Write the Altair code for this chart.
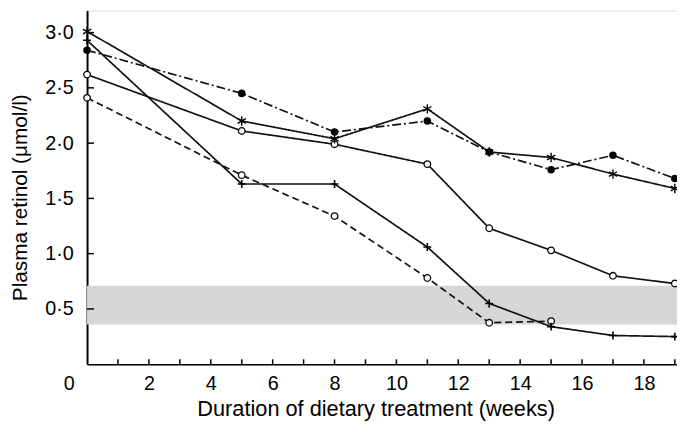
import altair as alt
import pandas as pd

# ---- data ----
weeks = [0, 5, 8, 11, 13, 15, 17, 19]
weeks_short = [0, 5, 8, 11, 13, 15]
asterisk_vals = [3.01, 2.20, 2.04, 2.31, 1.92, 1.87, 1.72, 1.59]
filled_vals = [2.84, 2.45, 2.10, 2.20, 1.92, 1.76, 1.89, 1.68]
open_solid_vals = [2.62, 2.11, 1.99, 1.81, 1.23, 1.03, 0.80, 0.73]
plus_vals = [2.93, 1.63, 1.63, 1.06, 0.55, 0.34, 0.26, 0.25]
open_dashed_vals = [2.41, 1.71, 1.34, 0.78, 0.375, 0.39]

band_range = [0.36, 0.71]
x_tick_labels = [0, 2, 4, 6, 8, 10, 12, 14, 16, 18]
x_minor_ticks = list(range(1, 20))
y_tick_labels = [0.5, 1.0, 1.5, 2.0, 2.5, 3.0]

W, H = 597, 358
FONT = "Liberation Sans"

rows = []
for name, ws, vs in [
    ("asterisk", weeks, asterisk_vals),
    ("filled", weeks, filled_vals),
    ("open_solid", weeks, open_solid_vals),
    ("plus", weeks, plus_vals),
    ("open_dashed", weeks_short, open_dashed_vals),
]:
    for w, v in zip(ws, vs):
        rows.append({"series": name, "week": w, "value": v})
df = pd.DataFrame(rows)

x_scale = alt.Scale(domain=[0, 19.07], nice=False, zero=False)
y_scale = alt.Scale(domain=[0, 3.2], nice=False, zero=False)

x_axis = alt.Axis(
    values=x_tick_labels,
    title="Duration of dietary treatment (weeks)",
    ticks=False, grid=False,
    domainColor="black", domainWidth=1.6,
    labelFont=FONT, labelFontSize=20, labelColor="black",
    labelPadding=10, labelFlush=False,
    labelAlign={"condition": {"test": "datum.value == 0", "value": "right"}, "value": "center"},
    labelOffset={"condition": {"test": "datum.value == 0", "value": -13}, "value": 0},
    titleFont=FONT, titleFontSize=22, titleFontWeight="normal", titleColor="black",
    titleX=292, titleY=52, titleBaseline="alphabetic", titleAnchor="middle", titleAlign="center",
)
y_axis = alt.Axis(
    values=y_tick_labels,
    title="Plasma retinol (\u03bcmol/l)",
    ticks=False, grid=False,
    domainColor="black", domainWidth=2,
    labelFont=FONT, labelFontSize=20, labelColor="black",
    labelPadding=14,
    labelExpr="replace(format(datum.value, '.1f'), '.', '\u00b7')",
    titleFont=FONT, titleFontSize=21, titleFontWeight="normal", titleColor="black",
    titleX=-61, titleY=189, titleBaseline="alphabetic", titleAngle=-90, titleAlign="center",
)

X = alt.X("week:Q", scale=x_scale, axis=x_axis)
Y = alt.Y("value:Q", scale=y_scale, axis=y_axis)

band_df = pd.DataFrame({"value": [band_range[0]], "value2": [band_range[1]]})
band = alt.Chart(band_df).mark_rect(color="#d6d6d6", opacity=1).encode(
    y=Y, y2="value2:Q", x=alt.value(0), x2=alt.value(W)
)

series_order = ["asterisk", "filled", "open_solid", "plus", "open_dashed"]
lines = alt.Chart(df).mark_line(color="#111111", strokeWidth=1.7).encode(
    x=X, y=Y, detail="series:N",
    strokeDash=alt.StrokeDash(
        "series:N",
        scale=alt.Scale(domain=series_order,
                        range=[[1, 0], [9, 3, 2, 3], [1, 0], [1, 0], [7, 4]]),
        legend=None,
    ),
)

open_pts = alt.Chart(df).transform_filter(
    "datum.series == 'open_solid' || datum.series == 'open_dashed'"
).mark_point(shape="circle", filled=True, color="white", stroke="black",
             strokeWidth=1.3, size=44, opacity=1).encode(x=X, y=Y)

filled_pts = alt.Chart(df).transform_filter("datum.series == 'filled'").mark_point(
    shape="circle", filled=True, color="black", size=58, opacity=1
).encode(x=X, y=Y)

plus_path = "M-1,0H1M0,-1V1"
plus_pts = alt.Chart(df).transform_filter("datum.series == 'plus'").mark_point(
    shape=plus_path, color="black", strokeWidth=1.6, size=64, opacity=1
).encode(x=X, y=Y)

aster_path = "M0,-1V1M-0.87,-0.5L0.87,0.5M-0.87,0.5L0.87,-0.5"
aster_pts = alt.Chart(df).transform_filter("datum.series == 'asterisk'").mark_point(
    shape=aster_path, color="black", strokeWidth=1.4, size=90, opacity=1
).encode(x=X, y=Y)

ytick_df = pd.DataFrame({"value": y_tick_labels})
yticks = alt.Chart(ytick_df).mark_rule(color="black", strokeWidth=1.5).encode(
    y=Y, x=alt.value(0), x2=alt.value(7)
)
xtick_df = pd.DataFrame({"week": x_minor_ticks})
xticks = alt.Chart(xtick_df).mark_rule(color="black", strokeWidth=1.5).encode(
    x=X, y=alt.value(H), y2=alt.value(H - 5)
)

chart = alt.layer(
    band, lines, xticks, yticks, open_pts, filled_pts, plus_pts, aster_pts
).properties(
    width=W, height=H,
    autosize=alt.AutoSizeParams(type="none"),
    padding={"left": 80, "top": 0, "right": 0, "bottom": 59},
).configure_view(stroke=None).configure(background="white")

chart.save("out.html", embed_options={"renderer": "svg", "actions": False})
